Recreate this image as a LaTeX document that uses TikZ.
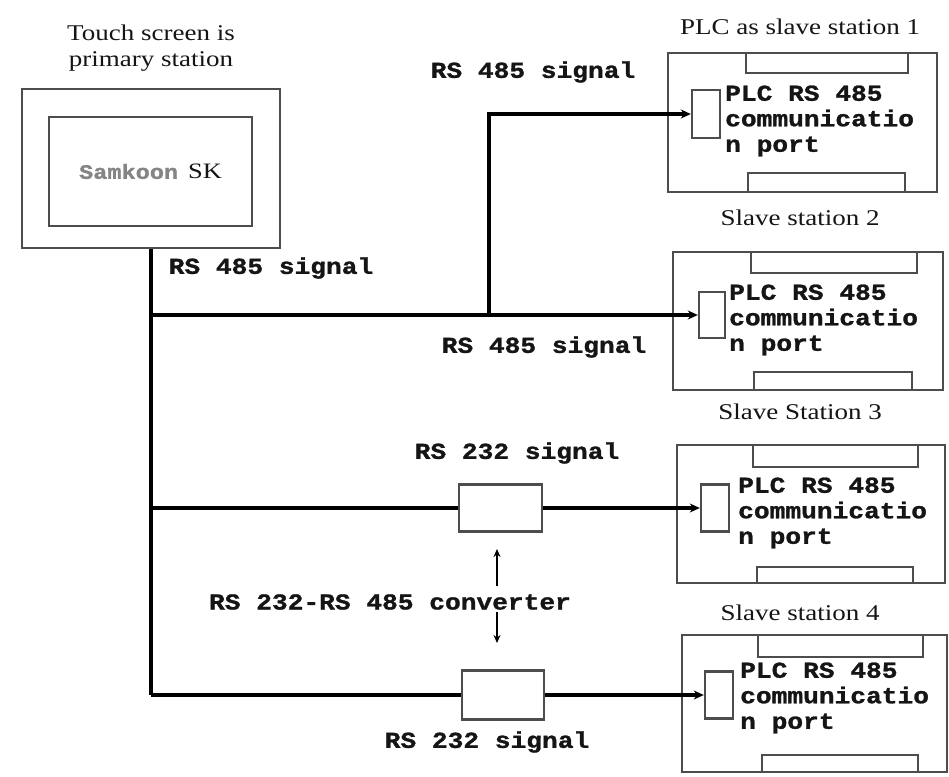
\documentclass[tikz,border=0pt]{standalone}
\usepackage{fontspec}
\setmainfont{Liberation Serif}
\newfontfamily\monob[FakeStretch=1.15, BoldFeatures={FakeBold=1.2}]{Liberation Mono}
\newfontfamily\serifw[FakeStretch=1.2]{Liberation Serif}
\usetikzlibrary{arrows.meta}
\definecolor{boxgray}{HTML}{4D4D4D}
\definecolor{txt}{HTML}{151515}
\definecolor{samgray}{HTML}{858585}
\begin{document}
\begin{tikzpicture}[x=1pt,y=-1pt,
  box/.style={draw=boxgray, line width=2.4pt, inner sep=0pt, fill=none},
  tab/.style={draw=boxgray, line width=2.4pt},
  wire/.style={draw=black, line width=3.3pt},
  arr/.style={wire, -{Stealth[length=10pt,width=9pt]}},
  thinarr/.style={draw=black, line width=1.9pt, -{Stealth[length=8pt,width=7pt]}},
  sig/.style={font=\monob\bfseries\fontsize{22.8}{25.5}\selectfont, inner sep=0pt, text=txt},
  ttl/.style={font=\serifw\fontsize{22.5}{28}\selectfont, inner sep=0pt, text=txt},
  plctext/.style={sig, align=left, anchor=west}]
\useasboundingbox (0,0) rectangle (949,776);
\fill[white] (0,0) rectangle (949,776);

% touch screen
\node[ttl] (tstitleA) at (151,33) {Touch screen is};
\node[ttl] (tstitleB) at (151,61) {primary station};
\node[box, minimum width=258pt, minimum height=159pt] (ts) at (151,168.5) {};
\node[box, minimum width=203pt, minimum height=109pt] (tsin) at (150.5,171.5)
  {{\monob\bfseries\fontsize{20.5}{24}\selectfont\color{samgray}Samkoon}\hspace{10pt}{\serifw\fontsize{22}{24}\selectfont\color{txt}SK}};

% PLC 1
\node[ttl] (t1) at (800,27) {PLC as slave station 1};
\node[box, minimum width=269pt, minimum height=139pt] (p1) at (802.5,122.5) {};
\draw[tab] (746,53) rectangle (908,73);
\draw[tab] (748,173) rectangle (905,192);
\node[box, minimum width=28pt, minimum height=48pt] (port1) at (706,114) {};
\node[plctext] (x1) at (725,121) {PLC RS 485\\communicatio\\n port};

% PLC 2
\node[ttl] (t2) at (800,218) {Slave station 2};
\node[box, minimum width=270pt, minimum height=138pt] (p2) at (808,321) {};
\draw[tab] (751,252) rectangle (917,273);
\draw[tab] (754,372) rectangle (912,390);
\node[box, minimum width=26pt, minimum height=46pt] (port2) at (712,315) {};
\node[plctext] (x2) at (729,320) {PLC RS 485\\communicatio\\n port};

% PLC 3
\node[ttl] (t3) at (800,412) {Slave Station 3};
\node[box, minimum width=268pt, minimum height=138pt] (p3) at (811,514) {};
\draw[tab] (753,445) rectangle (918,467);
\draw[tab] (757,567) rectangle (913,583);
\node[box, minimum width=28pt, minimum height=47pt] (port3) at (715,508) {};
\node[plctext] (x3) at (738,513) {PLC RS 485\\communicatio\\n port};

% PLC 4
\node[ttl] (t4) at (800,613) {Slave station 4};
\node[box, minimum width=265pt, minimum height=137pt] (p4) at (814.5,703.5) {};
\draw[tab] (758,635) rectangle (923,657);
\draw[tab] (762,755) rectangle (918,772);
\node[box, minimum width=28pt, minimum height=47pt] (port4) at (719,695) {};
\node[plctext] (x4) at (740,698) {PLC RS 485\\communicatio\\n port};

% converters
\node[box, minimum width=83pt, minimum height=47pt] (cv1) at (500.5,508) {};
\node[box, minimum width=82pt, minimum height=49pt] (cv2) at (503,695) {};

% labels
\node[sig] (l485a) at (533,72) {RS 485 signal};
\node[sig] (l485b) at (271,268) {RS 485 signal};
\node[sig] (l485c) at (544,347) {RS 485 signal};
\node[sig] (l232a) at (517,453) {RS 232 signal};
\node[sig] (l232b) at (487,742) {RS 232 signal};
\node[sig] (conv) at (390,602) {RS 232-RS 485 converter};

% wiring
\coordinate (j1) at (151,315);
\coordinate (br) at (489,315);
\coordinate (j3) at (151,508);
\coordinate (j4) at (151,695);
\draw[wire] (ts.south) -- (j4);
\draw[arr] (j1) -- (port2.west);
\draw[arr] (br) |- (port1.west);
\draw[wire] (j3) -- (cv1.west);
\draw[arr] (cv1.east) -- (port3.west);
\draw[wire] (j4) -- (cv2.west);
\draw[arr] (cv2.east) -- (port4.west);

\coordinate (ua) at (497,586);
\coordinate (ut) at (497,549);
\coordinate (da) at (497,612);
\coordinate (dt) at (497,643);
\draw[thinarr] (ua) -- (ut);
\draw[thinarr] (da) -- (dt);
\end{tikzpicture}
\end{document}
